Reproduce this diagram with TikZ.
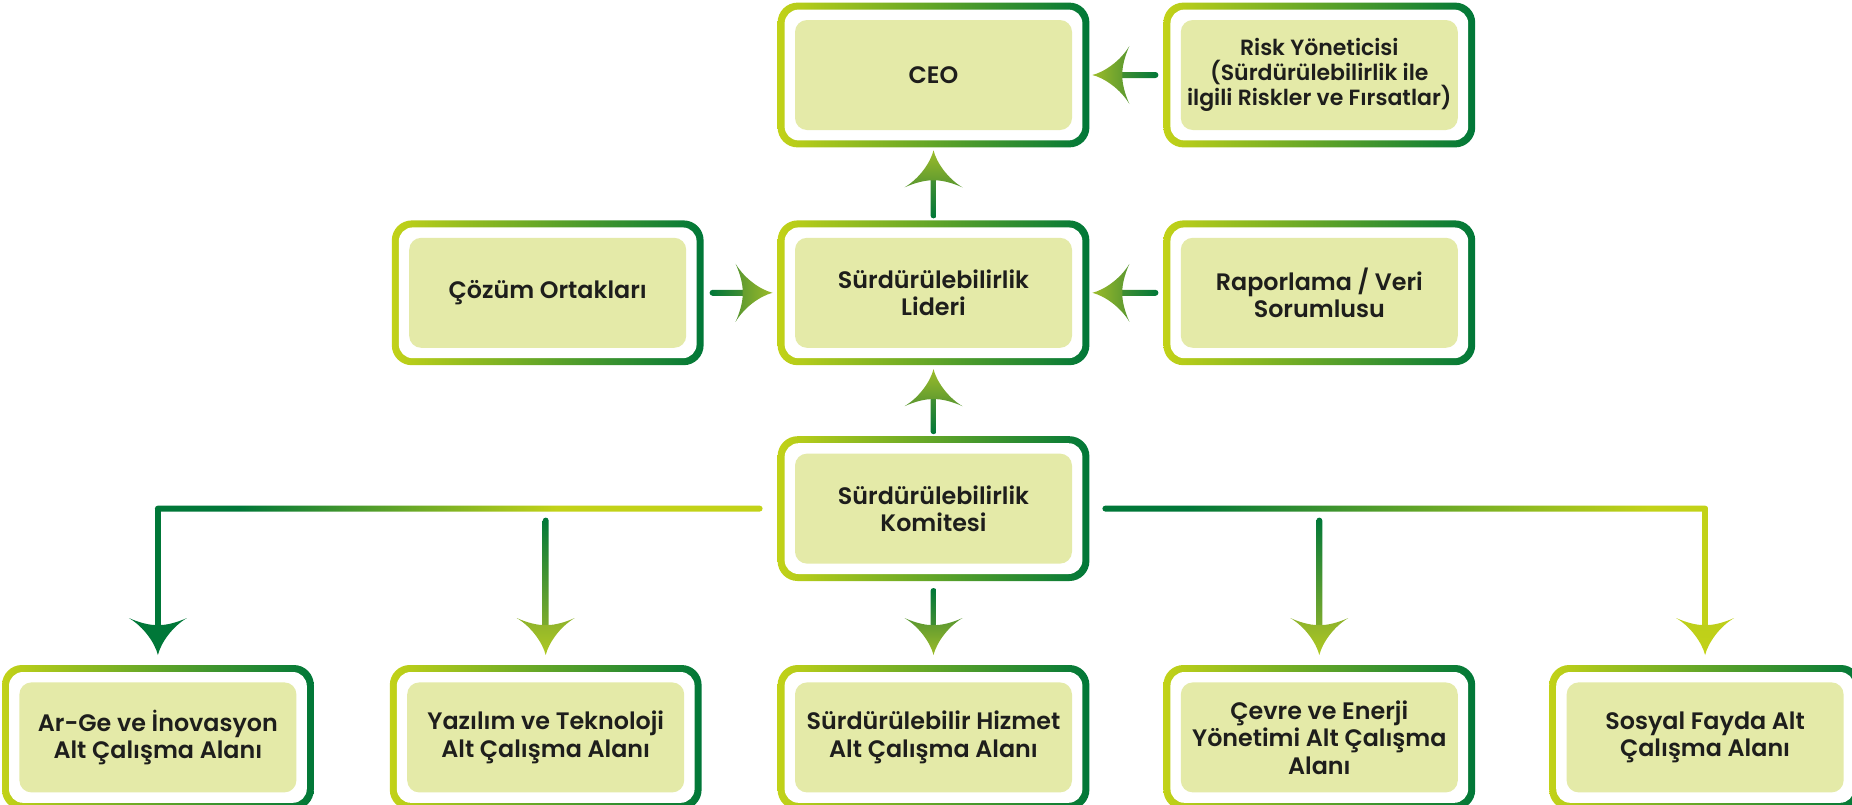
\documentclass[tikz,border=0pt]{standalone}
\usepackage{fontspec}
\setmainfont{Poppins}[BoldFont={Poppins SemiBold}]
\usetikzlibrary{positioning,backgrounds}
\definecolor{lime1}{RGB}{194,210,24}
\definecolor{dkgreen}{RGB}{0,119,56}
\definecolor{boxfill}{RGB}{228,234,168}
\definecolor{ink}{RGB}{30,30,28}
\definecolor{olive1}{RGB}{141,178,44}
\definecolor{olive2}{RGB}{174,201,34}
\definecolor{mid1}{RGB}{88,150,48}
\definecolor{mid2}{RGB}{156,188,42}
\pgfdeclarehorizontalshading{branchleft}{100bp}{color(0bp)=(dkgreen); color(32bp)=(dkgreen); color(58bp)=(lime1); color(100bp)=(lime1)}
\pgfdeclarehorizontalshading{branchright}{100bp}{color(0bp)=(dkgreen); color(32bp)=(dkgreen); color(70bp)=(lime1); color(100bp)=(lime1)}
\tikzstyle{unit} = [rectangle, fill=boxfill, rounded corners=6pt, 
    minimum width=138.5pt, minimum height=55pt, inner sep=1pt, align=center, 
    text=ink, font=\fontsize{11.9pt}{13.8pt}\selectfont\bfseries]
\tikzstyle{frame} = [left color=lime1, right color=dkgreen, rounded corners=10pt]
\tikzstyle{headup} = [x={(1pt,0pt)}, y={(0pt,1pt)}]
\tikzstyle{headdown} = [x={(1pt,0pt)}, y={(0pt,-1pt)}]
\tikzstyle{headleft} = [x={(0pt,1pt)}, y={(-1pt,0pt)}]
\tikzstyle{headright} = [x={(0pt,1pt)}, y={(1pt,0pt)}]
% arrow head: tip, direction, shading
\newcommand{\ghead}[3]{%
  \begin{scope}[shift={(#1)}, #2]
    \shade[#3] (0,0) .. controls (1.5,-6) and (7,-14) .. (14.5,-18.5)
      .. controls (9,-16) and (4,-15) .. (1.5,-15) -- (-1.5,-15)
      .. controls (-4,-15) and (-9,-16) .. (-14.5,-18.5)
      .. controls (-7,-14) and (-1.5,-6) .. (0,0) -- cycle;
  \end{scope}}

\begin{document}
\begin{tikzpicture}[x=1pt, y=1pt]
    \useasboundingbox (0,0) rectangle (926,-402);
    \node (ceo) [unit] at (466.75,-37.5) {CEO};
    \node (risk) [unit, right=54pt of ceo, font=\fontsize{11pt}{12.6pt}\selectfont\bfseries] {Risk Yöneticisi\\(Sürdürülebilirlik ile\\ilgili Riskler ve Fırsatlar)};
    \node (lider) [unit, below=53.5pt of ceo] {Sürdürülebilirlik\\Lideri};
    \node (cozum) [unit, left=54pt of lider] {Çözüm Ortakları};
    \node (rapor) [unit, right=54pt of lider] {Raporlama / Veri\\Sorumlusu};
    \node (komite) [unit, below=52.5pt of lider] {Sürdürülebilirlik\\Komitesi};
    \node (hizmet) [unit, below=59pt of komite] {Sürdürülebilir Hizmet\\Alt Çalışma Alanı};
    \node (yazilim) [unit, left=55pt of hizmet] {Yazılım ve Teknoloji\\Alt Çalışma Alanı};
    \node (arge) [unit, left=55pt of yazilim] {Ar-Ge ve İnovasyon\\Alt Çalışma Alanı};
    \node (cevre) [unit, right=54pt of hizmet] {Çevre ve Enerji\\Yönetimi Alt Çalışma\\Alanı};
    \node (sosyal) [unit, right=54pt of cevre] {Sosyal Fayda Alt\\Çalışma Alanı};

    % Frames
    \begin{scope}[on background layer]
    \foreach \n in {ceo,risk,lider,cozum,rapor,komite,arge,yazilim,hizmet,cevre,sosyal} {
        \shade[frame] ([shift={(-8.5,-8.5)}]\n.south west) rectangle ([shift={(8.5,8.5)}]\n.north east);
        \fill[white, rounded corners=7pt] ([shift={(-5,-5)}]\n.south west) rectangle ([shift={(5,5)}]\n.north east);
    }
    \end{scope}

    % Arrows
    \shade[bottom color=dkgreen, top color=mid1, rounded corners=1.5pt] ([xshift=-1.5pt,yshift=9.5pt]lider.north) rectangle ([xshift=1.5pt,yshift=-18pt]ceo.south);
    \ghead{[yshift=-10pt]ceo.south}{headup}{bottom color=mid1, top color=mid2}
    \shade[bottom color=dkgreen, top color=mid1, rounded corners=1.5pt] ([xshift=-1.5pt,yshift=9.5pt]komite.north) rectangle ([xshift=1.5pt,yshift=-18.5pt]lider.south);
    \ghead{[yshift=-10.5pt]lider.south}{headup}{bottom color=mid1, top color=mid2}
    \shade[left color=mid1, right color=dkgreen, rounded corners=1.5pt] ([xshift=18pt,yshift=-1.5pt]ceo.east) rectangle ([xshift=-11pt,yshift=1.5pt]risk.west);
    \ghead{[xshift=10pt]ceo.east}{headleft}{right color=mid1, left color=mid2}
    \shade[left color=mid1, right color=dkgreen, rounded corners=1.5pt] ([xshift=18pt,yshift=-1.5pt]lider.east) rectangle ([xshift=-11pt,yshift=1.5pt]rapor.west);
    \ghead{[xshift=10pt]lider.east}{headleft}{right color=mid1, left color=mid2}
    \shade[left color=dkgreen, right color=mid1, rounded corners=1.5pt] ([xshift=11.5pt,yshift=-1.5pt]cozum.east) rectangle ([xshift=-19pt,yshift=1.5pt]lider.west);
    \ghead{[xshift=-11pt]lider.west}{headright}{left color=mid1, right color=mid2}
    \shade[top color=dkgreen, bottom color=mid1, rounded corners=1.5pt] ([xshift=-1.5pt,yshift=-12pt]komite.south) rectangle ([xshift=1.5pt,yshift=21.5pt]hizmet.north);
    \ghead{[yshift=13.5pt]hizmet.north}{headdown}{top color=mid1, bottom color=mid2}

    % Branches
    \coordinate (kl) at ([xshift=-16pt]komite.west);
    \coordinate (kr) at ([xshift=15pt]komite.east);
    \coordinate (cl) at (arge.north |- kl);
    \coordinate (cr) at (sosyal.north |- kr);
    \coordinate (yl) at (yazilim.north |- kl);
    \coordinate (cv) at (cevre.north |- kr);
    \shade[shading=branchleft, rounded corners=1.5pt] ([xshift=-1.5pt,yshift=-1.5pt]cl) rectangle ([yshift=1.5pt]kl);
    \fill[dkgreen] ([xshift=-1.5pt]cl) rectangle ([xshift=1.5pt,yshift=21.5pt]arge.north);
    \ghead{[yshift=13.5pt]arge.north}{headdown}{top color=dkgreen, bottom color=dkgreen}
    \shade[shading=branchright, rounded corners=1.5pt] ([yshift=-1.5pt]kr) rectangle ([xshift=1.5pt,yshift=1.5pt]cr);
    \fill[lime1] ([xshift=-1.5pt]cr) rectangle ([xshift=1.5pt,yshift=21.5pt]sosyal.north);
    \ghead{[yshift=13.5pt]sosyal.north}{headdown}{top color=lime1!90!olive1, bottom color=lime1}
    \shade[top color=dkgreen, bottom color=olive1, rounded corners=1.5pt] ([xshift=-1.5pt,yshift=-4.5pt]yl) rectangle ([xshift=1.5pt,yshift=21.5pt]yazilim.north);
    \ghead{[yshift=13.5pt]yazilim.north}{headdown}{top color=olive1, bottom color=olive2}
    \shade[top color=dkgreen, bottom color=olive1, rounded corners=1.5pt] ([xshift=-1.5pt,yshift=-4.5pt]cv) rectangle ([xshift=1.5pt,yshift=21.5pt]cevre.north);
    \ghead{[yshift=13.5pt]cevre.north}{headdown}{top color=olive1, bottom color=olive2}
\end{tikzpicture}
\end{document}
